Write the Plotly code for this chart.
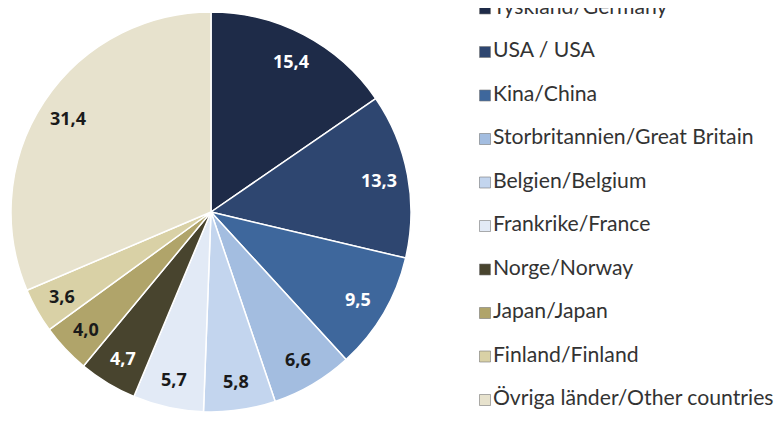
import math
import plotly.graph_objects as go

# andel per land (%)
labels = ["Tyskland/Germany", "USA / USA", "Kina/China", "Storbritannien/Great Britain",
          "Belgien/Belgium", "Frankrike/France", "Norge/Norway", "Japan/Japan",
          "Finland/Finland", "Övriga länder/Other countries"]
values = [15.4, 13.3, 9.5, 6.6, 5.8, 5.7, 4.7, 4.0, 3.6, 31.4]
colors = ["#1e2b48", "#2e4670", "#3e679c", "#a3bde0", "#c3d5ee",
          "#e2eaf6", "#48442e", "#b0a46a", "#d9d1a6", "#e7e2cd"]
text_colors = ["white", "white", "white", "#1a1a1a", "#1a1a1a",
               "#1a1a1a", "white", "#1a1a1a", "#1a1a1a", "#1a1a1a"]

W, H = 782, 429
R = 200                      # pajens radie i px
dom_x = [3 / W, 403 / W]
dom_y = [25 / H, 425 / H]

fig = go.Figure()

fig.add_trace(go.Pie(
    labels=labels, values=values, sort=False, direction="clockwise", rotation=0,
    marker=dict(colors=colors, line=dict(color="white", width=1.5)),
    textinfo="none", domain=dict(x=dom_x, y=dom_y),
    showlegend=False, hoverinfo="label+value",
))

# värdeetiketter längs mittvinkeln på varje tårtbit
cx = sum(dom_x) / 2
cy = sum(dom_y) / 2
total = sum(values)
cum = 0
for v, tc in zip(values, text_colors):
    ang = 2 * math.pi * (cum + v / 2) / total
    cum += v
    r = 0.855 * R
    fig.add_annotation(
        x=cx + r * math.sin(ang) / W, y=cy + r * math.cos(ang) / H,
        xref="paper", yref="paper", showarrow=False,
        xanchor="center", yanchor="middle",
        text=f"{v:.1f}".replace(".", ","),
        font=dict(family="Open Sans", size=18, color=tc, weight="bold"),
    )

# legenden ritas som en scatter på dold axel
fig.add_trace(go.Scatter(
    x=[9] * len(labels), y=list(range(len(labels))),
    mode="markers+text", text=labels, textposition="middle right",
    marker=dict(symbol="square", size=11, color=colors,
                line=dict(color="#777777", width=0.6)),
    textfont=dict(family="Lato", size=21.2, color="#333333"),
    showlegend=False, hoverinfo="skip", cliponaxis=False,
))

first, step = 0.5, 43.5
fig.update_xaxes(domain=[468 / W, 1], range=[0, W - 468], visible=False)
fig.update_yaxes(domain=[0, 1], range=[(H - first) / step, -first / step], visible=False)

fig.update_layout(
    width=W, height=H,
    margin=dict(l=0, r=0, t=0, b=0, autoexpand=False),
    paper_bgcolor="white", plot_bgcolor="white",
)

fig.write_html("out.html")
